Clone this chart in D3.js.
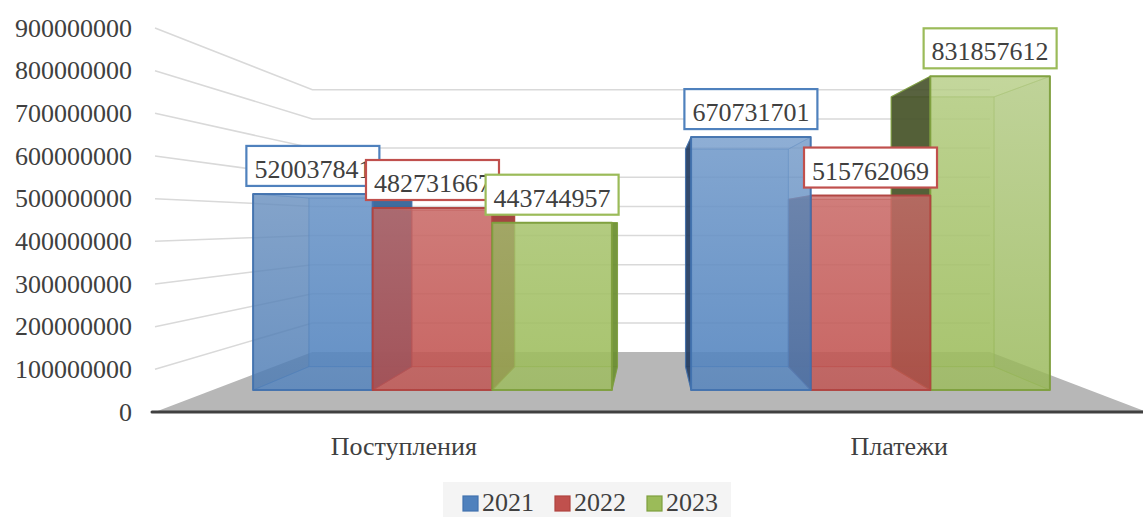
<!DOCTYPE html>
<html>
<head>
<meta charset="utf-8">
<title>Поступления и платежи</title>
<script src="https://d3js.org/d3.v7.min.js"></script>
<style>
  body { margin: 0; background: #fff; }
  svg text { font-family: "Liberation Serif", "Times New Roman", serif; fill: #404040; }
</style>
</head>
<body>
<div id="chart"></div>
<script>

const categories = ["Поступления", "Платежи"];
const years = ["2021", "2022", "2023"];
const values2021 = [520037841, 670731701];
const values2022 = [482731667, 515762069];
const values2023 = [443744957, 831857612];
const yMax = 900000000;

const seriesValues = [values2021, values2022, values2023];

// colours per series: base fill, edge, left side face, right side face
const palette = {
  "2021": {base: "#4F81BD", edge: "#4272AE", left: "#1F3557", right: "#2E5E92"},
  "2022": {base: "#C0504D", edge: "#B04340", left: "#5E2A28", right: "#9A3532"},
  "2023": {base: "#9BBB59", edge: "#7E9F3E", left: "#3F4A26", right: "#668A2D"}
};

const width = 1143, height = 517;
const fontSize = 26;

// simple one-point perspective: front plane coords pulled toward the vanishing point
const vp = {x: 651.5, y: 223};
const depth = {front: 1, barFront: 0.884, barBack: 0.76, wall: 0.683};
const wallLeft = 155, wallRight = 1147;

const x0 = d3.scaleBand().domain(categories).range([156, 1147]);
const x1 = d3.scaleBand().domain(years).range([0, x0.bandwidth()]).paddingOuter(0.331);
const y = d3.scaleLinear().domain([0, yMax]).range([412, 28]);

function proj(px, py, s) {
  return [vp.x + (px - vp.x) * s, vp.y + (py - vp.y) * s];
}
const poly = pts => "M" + pts.map(p => p[0].toFixed(2) + "," + p[1].toFixed(2)).join("L") + "Z";

const svg = d3.select("#chart").append("svg")
    .attr("width", width)
    .attr("height", height)
    .attr("viewBox", [0, 0, width, height]);

const defs = svg.append("defs");
years.forEach(yr => {
  const g = defs.append("linearGradient")
      .attr("id", "grad-" + yr)
      .attr("gradientUnits", "userSpaceOnUse")
      .attr("x1", 0).attr("x2", 0).attr("y1", 60).attr("y2", 400);
  g.append("stop").attr("offset", 0).attr("stop-color", d3.interpolateRgb(palette[yr].base, "#fff")(0.32));
  g.append("stop").attr("offset", 1).attr("stop-color", palette[yr].base);
});

const ticks = y.ticks(9);

// gridlines: side wall diagonal + back wall horizontal
svg.append("g")
  .selectAll("path")
  .data(ticks.filter(d => d > 0))
  .join("path")
    .attr("d", d => {
      const a = proj(wallLeft, y(d), depth.front);
      const b = proj(wallLeft, y(d), depth.wall);
      const c = proj(wallRight, y(d), depth.wall);
      return `M${a}L${b}L${c}`;
    })
    .attr("fill", "none")
    .attr("stroke", "#D9D9D9")
    .attr("stroke-width", 1.5);

// floor
svg.append("path")
    .attr("d", poly([
      proj(wallLeft, y(0), depth.front),
      proj(wallRight, y(0), depth.front),
      proj(wallRight, y(0), depth.wall),
      proj(wallLeft, y(0), depth.wall)
    ]))
    .attr("fill", "#B7B7B7");

svg.append("line")
    .attr("x1", 152).attr("x2", wallRight)
    .attr("y1", y(0)).attr("y2", y(0))
    .attr("stroke", "#404040")
    .attr("stroke-width", 3)
    .attr("stroke-linecap", "round");

// value axis
svg.append("g")
    .attr("transform", "translate(140,0)")
    .call(d3.axisLeft(y).tickValues(ticks).tickSize(0).tickPadding(8).tickFormat(d3.format("d")))
    .call(g => g.select(".domain").remove())
    .call(g => g.selectAll("text").attr("font-size", fontSize).attr("font-family", null));

// bars
const bars = [];
categories.forEach((c, i) => years.forEach((yr, j) => {
  const xa = x0(c) + x1(yr);
  bars.push({cat: c, year: yr, value: seriesValues[j][i], xa, xb: xa + x1.bandwidth()});
}));

const drawOrder = bars.slice().sort((a, b) =>
  Math.abs((b.xa + b.xb) / 2 - vp.x) - Math.abs((a.xa + a.xb) / 2 - vp.x));

const barG = svg.append("g");
drawOrder.forEach(d => {
  const col = palette[d.year];
  const yt = y(d.value), yb = y(0);
  const face = s => ({
    lb: proj(d.xa, yb, s), rb: proj(d.xb, yb, s),
    rt: proj(d.xb, yt, s), lt: proj(d.xa, yt, s)
  });
  const F = face(depth.barFront), B = face(depth.barBack);
  const leftVisible = (d.xa + d.xb) / 2 > vp.x;
  const leftFace = [F.lb, B.lb, B.lt, F.lt];
  const rightFace = [F.rb, B.rb, B.rt, F.rt];
  const faces = [
    {pts: [B.lb, B.rb, B.rt, B.lt], fill: col.base, op: 0.55, sw: 1, so: 0.5},
    {pts: [F.lb, F.rb, B.rb, B.lb], fill: col.base, op: 0.25, sw: 1, so: 0.5},
    {pts: [F.lt, F.rt, B.rt, B.lt], fill: col.base, op: 0.3, sw: 1, so: 0.5},
    {pts: leftVisible ? rightFace : leftFace, fill: leftVisible ? col.right : col.left, op: 0.3, sw: 1, so: 0.4},
    {pts: leftVisible ? leftFace : rightFace, fill: leftVisible ? col.left : col.right, op: 0.85, sw: 1.2, so: 0.8},
    {pts: [F.lb, F.rb, F.rt, F.lt], fill: `url(#grad-${d.year})`, op: 0.75, sw: 2, so: 0.95}
  ];
  barG.append("g").selectAll("path")
    .data(faces)
    .join("path")
      .attr("d", f => poly(f.pts))
      .attr("fill", f => f.fill)
      .attr("fill-opacity", f => f.op)
      .attr("stroke", col.edge)
      .attr("stroke-width", f => f.sw)
      .attr("stroke-opacity", f => f.so)
      .attr("stroke-linejoin", "round");
  d.cx = (F.lb[0] + F.rb[0]) / 2;
  d.top = F.lt[1];
});

// data labels, in series order so later years sit on top
const labelG = svg.append("g");
bars.forEach(d => {
  const g = labelG.append("g");
  const rect = g.append("rect");
  const t = g.append("text")
      .attr("x", d.cx)
      .attr("y", d.top - 16)
      .attr("text-anchor", "middle")
      .attr("font-size", fontSize)
      .text(d.value);
  const w = t.node().getComputedTextLength() + 16;
  rect.attr("x", d.cx - w / 2)
      .attr("y", d.top - 48)
      .attr("width", w)
      .attr("height", 40)
      .attr("fill", "#fff")
      .attr("stroke", palette[d.year].base)
      .attr("stroke-width", 2.2);
});

// category labels
svg.append("g")
  .selectAll("text")
  .data(categories)
  .join("text")
    .attr("x", d => x0(d) + x0.bandwidth() / 2)
    .attr("y", 455)
    .attr("text-anchor", "middle")
    .attr("font-size", fontSize)
    .text(d => d);

// legend
const legend = svg.append("g");
legend.append("rect")
    .attr("x", 443).attr("y", 482)
    .attr("width", 288).attr("height", 40)
    .attr("fill", "#F4F4F4");
const item = legend.selectAll("g.item")
  .data(years)
  .join("g")
    .attr("class", "item")
    .attr("transform", (d, i) => `translate(${463 + i * 92},0)`);
item.append("rect")
    .attr("x", 0).attr("y", 496)
    .attr("width", 15).attr("height", 15)
    .attr("fill", d => palette[d].base)
    .attr("stroke", d => palette[d].edge)
    .attr("stroke-width", 1.2);
item.append("text")
    .attr("x", 19)
    .attr("y", 511)
    .attr("font-size", fontSize)
    .text(d => d);

</script>
</body>
</html>
